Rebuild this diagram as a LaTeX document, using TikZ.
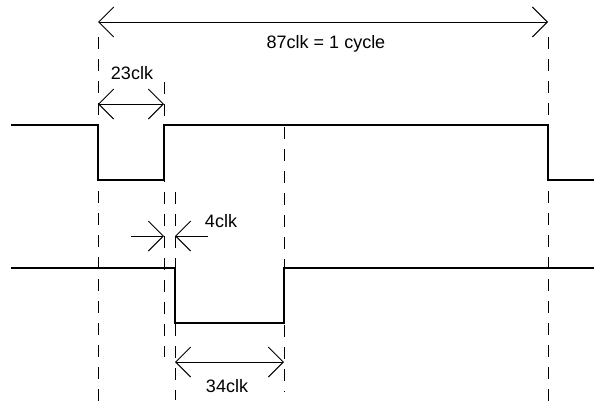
\documentclass[tikz,border=0pt]{standalone}
\usepackage{fontspec}
\setmainfont{Liberation Sans}
\usetikzlibrary{arrows.meta}

\begin{document}
\begin{tikzpicture}[x=1pt,y=-1pt,
    signal/.style={line width=2pt},
    guide/.style={line width=0.9pt,dash pattern=on 12pt off 10pt},
    span/.style={line width=0.9pt,{Straight Barb[length=15pt,width=30pt]}-{Straight Barb[length=15pt,width=30pt]}},
    pointer/.style={line width=0.9pt,-{Straight Barb[length=15pt,width=30pt]}},
    lbl/.style={font=\fontsize{18}{20}\selectfont,inner sep=0pt,anchor=base}]
    \useasboundingbox (0,0) rectangle (594,407);
    % guide lines
    \draw[guide] (98,37) -- (98,407);
    \draw[guide] (164,82) -- (164,357);
    \draw[guide] (175,192) -- (175,400);
    \draw[guide] (284,127) -- (284,392);
    \draw[guide] (548,37) -- (548,407);
    % signals
    \draw[signal] (11,125) -- (98,125) -- (98,180) -- (164,180) -- (164,125)
        -- (548,125) -- (548,180) -- (594,180);
    \draw[signal] (11,268) -- (175,268) -- (175,323) -- (284,323) -- (284,268)
        -- (594,268);
    % spans
    \coordinate (cycA) at (98,22);
    \coordinate (cycB) at (548,22);
    \draw[span] (cycA) -- (cycB);
    \node[lbl] (cycle) at (326,48) {87clk = 1 cycle};
    \coordinate (lowA) at (98,104);
    \coordinate (lowB) at (164,104);
    \draw[span] (lowA) -- (lowB);
    \node[lbl] (low) at (132,79) {23clk};
    \coordinate (gapL) at (131,236);
    \coordinate (gapA) at (164,236);
    \coordinate (gapB) at (175,236);
    \coordinate (gapR) at (208,236);
    \draw[pointer] (gapL) -- (gapA);
    \draw[pointer] (gapR) -- (gapB);
    \node[lbl] (gap) at (221,227) {4clk};
    \coordinate (pulseA) at (175,362);
    \coordinate (pulseB) at (284,362);
    \draw[span] (pulseA) -- (pulseB);
    \node[lbl] (pulse) at (227,392) {34clk};
\end{tikzpicture}
\end{document}
